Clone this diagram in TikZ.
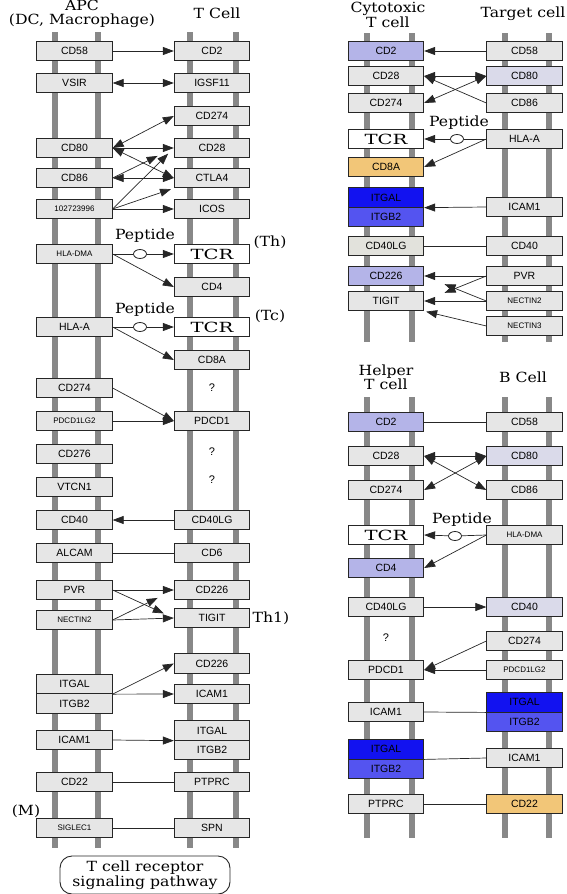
\documentclass[tikz,border=0pt]{standalone}
\usepackage{fontspec}
\setmainfont{Liberation Sans}
\newfontfamily\keggserif{DejaVu Serif}
\usepackage{graphicx}
\usepackage{tikz}
\usetikzlibrary{arrows.meta,shapes.geometric}
\definecolor{kegggray}{RGB}{230,230,230}
\definecolor{keggbar}{RGB}{136,136,136}
\definecolor{keggviolet}{RGB}{180,180,232}
\definecolor{kegglilac}{RGB}{218,218,234}
\definecolor{keggsand}{RGB}{226,226,220}
\definecolor{keggorange}{RGB}{242,198,120}
\definecolor{keggblue}{RGB}{18,18,240}
\definecolor{keggblueb}{RGB}{84,84,240}
\newcommand{\wide}[1]{\scalebox{1.12}[1]{#1}}
\newcommand{\tcrtext}{\scalebox{1.4}[1]{TCR}}
\tikzset{
  gene/.style={draw=black!85,line width=0.8pt,fill=kegggray,minimum width=75.5pt,
    minimum height=19.5pt,inner sep=0pt,font=\fontsize{10.5}{12}\selectfont},
  genesmall/.style={gene,font=\fontsize{8}{9}\selectfont},
  tcrbox/.style={gene,fill=white,font=\keggserif\fontsize{14}{14}\selectfont},
  membrane/.style={keggbar,line width=5.5pt},
  celltitle/.style={font=\keggserif\fontsize{14}{12.5}\selectfont,align=center,inner sep=0pt},
  pep/.style={ellipse,draw=black!85,line width=0.8pt,fill=white,minimum width=13pt,
    minimum height=9pt,inner sep=0pt},
  qmark/.style={font=\fontsize{11}{12}\selectfont},
  bond/.style={black!85,line width=0.7pt},
  arr/.style={bond,-{Triangle[length=11pt,width=8pt]}},
  dbl/.style={bond,{Triangle[length=11pt,width=8pt]}-{Triangle[length=11pt,width=8pt]}}
}

\begin{document}
\begin{tikzpicture}[x=1pt,y=-1pt]
\useasboundingbox (0,0) rectangle (566,894);
% ---------------- left panel: APC / T cell ----------------
\begin{scope}
  \foreach \x in {55,98,190,236}{
    \draw[membrane] (\x,32) -- (\x,848);}
  \node[celltitle,font=\keggserif\fontsize{14}{13.5}\selectfont] (apcTitle) at (82,14)
    {\wide{APC}\\\wide{(DC, Macrophage)}};
  \node[celltitle] (tTitle) at (217,13) {\wide{T Cell}};
  \foreach \n/\y/\l in {aCD58/51/CD58,aVSIR/83/VSIR,aCD80/148/CD80,aCD86/178/CD86,
      aHLAA/327/HLA-A,aPDL1/388/CD274,aCD276/454/CD276,aVTCN1/487/VTCN1,aCD40/520/CD40,
      aALCAM/553/ALCAM,aPVR/590/PVR,aITGAL/684/ITGAL,aITGB2/703.5/ITGB2,aICAM1/740/ICAM1,
      aCD22/782/CD22}{
    \node[gene] (\n) at (74.5,\y) {\l};}
  \foreach \n/\y/\l in {aICOSLG/209/102723996,aDMA/254/HLA-DMA,aPDL2/421/PDCD1LG2,
      aNEC2/620/NECTIN2,aSIGLEC/828/SIGLEC1}{
    \node[genesmall] (\n) at (74.5,\y) {\l};}
  \foreach \n/\y/\l in {tCD2/51/CD2,tIGSF11/83/IGSF11,tCD274/116/CD274,tCD28/148/CD28,
      tCTLA4/178/CTLA4,tICOS/209/ICOS,tCD4/287/CD4,tCD8A/360/CD8A,tPDCD1/421/PDCD1,
      tCD40LG/520/CD40LG,tCD6/553/CD6,tCD226/590/CD226,tTIGIT/618/TIGIT,
      tCD226b/663.5/CD226,tICAM1/694/ICAM1,tITGAL/730.5/ITGAL,tITGB2/750/ITGB2,
      tPTPRC/782/PTPRC,tSPN/828/SPN}{
    \node[gene] (\n) at (212,\y) {\l};}
  \node[tcrbox] (tTCRh) at (212,254) {\tcrtext};
  \node[tcrbox] (tTCRc) at (212,327) {\tcrtext};
  \foreach \y in {388,452,480}{
    \node[qmark] at (212,\y) {?};}
  \node[celltitle] (thLabel) at (270,242) {\wide{(Th)}};
  \node[celltitle] (tcLabel) at (270,316) {\wide{(Tc)}};
  \node[celltitle] (th1Label) at (271,618) {\wide{Th1)}};
  \node[celltitle] (mLabel) at (26,811) {\wide{(M)}};
  \node[celltitle] (pepThLabel) at (145,236) {\wide{Peptide}};
  \node[celltitle] (pepTcLabel) at (145,310) {\wide{Peptide}};
  \node[pep] (pepTh) at (140,254) {};
  \node[pep] (pepTc) at (140,327) {};
  % connectors
  \draw[arr] (aCD58.east) -- (tCD2.west);
  \draw[dbl] (aVSIR.east) -- (tIGSF11.west);
  \draw[dbl] (aCD80.east) -- (tCD274.west);
  \draw[arr] (aCD80.east) -- (tCD28.west);
  \draw[dbl] (aCD80.east) -- (tCTLA4.west);
  \draw[dbl] (aCD86.east) -- (tCTLA4.west);
  \draw[arr,shorten >=18pt] (aCD86.east) -- (tCD28.west);
  \draw[arr,shorten >=8pt] (aICOSLG.east) -- (tCD28.west);
  \draw[arr,shorten >=3pt] (aICOSLG.east) -- (tCTLA4.south west);
  \draw[arr] (aICOSLG.east) -- (tICOS.west);
  \draw[bond] (aDMA.east) -- (pepTh);
  \draw[arr] (pepTh) -- (tTCRh.west);
  \draw[arr] (aDMA.east) -- (tCD4.west);
  \draw[bond] (aHLAA.east) -- (pepTc);
  \draw[arr] (pepTc) -- (tTCRc.west);
  \draw[arr] (aHLAA.east) -- (tCD8A.west);
  \draw[arr] (aPDL1.east) -- (tPDCD1.west);
  \draw[arr] (aPDL2.east) -- (tPDCD1.west);
  \draw[arr] (tCD40LG.west) -- (aCD40.east);
  \draw[bond] (aALCAM.east) -- (tCD6.west);
  \draw[arr] (aPVR.east) -- (tCD226.west);
  \draw[arr,shorten >=11pt] (aPVR.east) -- (tTIGIT.west);
  \draw[arr,shorten >=18pt] (aNEC2.east) -- (tCD226.west);
  \draw[arr] (aNEC2.east) -- (tTIGIT.west);
  \draw[arr] (aITGAL.south east) -- (tCD226b.west);
  \draw[arr] (aITGAL.south east) -- (tICAM1.west);
  \draw[arr] (aICAM1.east) -- (tITGAL.south west);
  \draw[bond] (aCD22.east) -- (tPTPRC.west);
  \draw[bond] (aSIGLEC.east) -- (tSPN.west);
  \node[draw=black!85,line width=0.9pt,rounded corners=12pt,minimum width=170pt,
    minimum height=38pt,inner sep=0pt,align=center,
    font=\keggserif\fontsize{14}{13}\selectfont] (tcrMap) at (145,875)
    {\wide{T cell receptor}\\\wide{signaling pathway}};
\end{scope}
% ---------------- right top: cytotoxic T cell / target cell ----------------
\begin{scope}
  \foreach \x in {367,412,505,549}{
    \draw[membrane] (\x,33) -- (\x,342);}
  \node[celltitle] (ctlTitle) at (388,15) {\wide{Cytotoxic}\\\wide{T cell}};
  \node[celltitle] (tgtTitle) at (523,14) {\wide{Target cell}};
  \foreach \n/\y/\l in {cCD28/76/CD28,cCD274/103/CD274,cTIGIT/301/TIGIT}{
    \node[gene] (\n) at (386,\y) {\l};}
  \node[gene,fill=keggviolet] (cCD2) at (386,51) {CD2};
  \node[tcrbox] (cTCR) at (386,139) {\tcrtext};
  \node[gene,fill=keggorange] (cCD8A) at (386,167) {CD8A};
  \node[gene,fill=keggblue] (cITGAL) at (386,197.5) {ITGAL};
  \node[gene,fill=keggblueb] (cITGB2) at (386,217) {ITGB2};
  \node[gene,fill=keggsand] (cCD40LG) at (386,246) {CD40LG};
  \node[gene,fill=keggviolet] (cCD226) at (386,276) {CD226};
  \foreach \n/\y/\l in {gCD58/51/CD58,gCD86/103/CD86,gHLAA/139/HLA-A,gICAM1/207/ICAM1,
      gCD40/246/CD40,gPVR/276/PVR}{
    \node[gene] (\n) at (524.5,\y) {\l};}
  \node[gene,fill=kegglilac] (gCD80) at (524.5,76) {CD80};
  \node[genesmall] (gNEC2) at (524.5,301) {NECTIN2};
  \node[genesmall] (gNEC3) at (524.5,326) {NECTIN3};
  \node[celltitle] (pepCLabel) at (459,123) {\wide{Peptide}};
  \node[pep] (pepC) at (457,139) {};
  % connectors
  \draw[arr] (gCD58.west) -- (cCD2.east);
  \draw[dbl] (gCD80.west) -- (cCD28.east);
  \draw[arr] (gCD86.west) -- (cCD28.east);
  \draw[dbl] (gCD80.west) -- (cCD274.east);
  \draw[bond] (gHLAA.west) -- (pepC);
  \draw[arr] (pepC) -- (cTCR.east);
  \draw[arr] (gHLAA.west) -- (cCD8A.east);
  \draw[arr] (gICAM1.west) -- (cITGAL.south east);
  \draw[bond] (gCD40.west) -- (cCD40LG.east);
  \draw[arr] (gPVR.west) -- (cCD226.east);
  \draw[arr,shorten >=22pt] (gPVR.west) -- (cTIGIT.east);
  \draw[arr,shorten >=22pt] (gNEC2.west) -- (cCD226.east);
  \draw[arr] (gNEC2.west) -- (cTIGIT.east);
  \draw[arr,shorten >=2pt] (gNEC3.west) -- (cTIGIT.south east);
\end{scope}
% ---------------- right bottom: helper T cell / B cell ----------------
\begin{scope}
  \foreach \x in {367,412,505,549}{
    \draw[membrane] (\x,397) -- (\x,838);}
  \node[celltitle] (thTitle) at (386,377.5) {\wide{Helper}\\\wide{T cell}};
  \node[celltitle] (bTitle) at (523,377) {\wide{B Cell}};
  \foreach \n/\y/\l in {hCD28/456/CD28,hCD274/490/CD274,hCD40LG/607/CD40LG,
      hPDCD1/670/PDCD1,hICAM1/712/ICAM1,hPTPRC/804/PTPRC}{
    \node[gene] (\n) at (386,\y) {\l};}
  \node[gene,fill=keggviolet] (hCD2) at (386,422) {CD2};
  \node[tcrbox] (hTCR) at (386,535) {\tcrtext};
  \node[gene,fill=keggviolet] (hCD4) at (386,568) {CD4};
  \node[gene,fill=keggblue] (hITGAL) at (386,749.25) {ITGAL};
  \node[gene,fill=keggblueb] (hITGB2) at (386,768.75) {ITGB2};
  \node[qmark] at (386,638) {?};
  \foreach \n/\y/\l in {bCD58/422/CD58,bCD86/490/CD86,bCD274/641/CD274,bICAM1/758/ICAM1}{
    \node[gene] (\n) at (524.5,\y) {\l};}
  \node[gene,fill=kegglilac] (bCD80) at (524.5,456) {CD80};
  \node[genesmall] (bDMA) at (524.5,535) {HLA-DMA};
  \node[gene,fill=kegglilac] (bCD40) at (524.5,607) {CD40};
  \node[genesmall] (bPDL2) at (524.5,670) {PDCD1LG2};
  \node[gene,fill=keggblue] (bITGAL) at (524.5,702.25) {ITGAL};
  \node[gene,fill=keggblueb] (bITGB2) at (524.5,721.75) {ITGB2};
  \node[gene,fill=keggorange] (bCD22) at (524.5,804) {CD22};
  \node[celltitle] (pepHLabel) at (462,520) {\wide{Peptide}};
  \node[pep] (pepH) at (455,536) {};
  % connectors
  \draw[bond] (hCD2.east) -- (bCD58.west);
  \draw[dbl] (hCD28.east) -- (bCD80.west);
  \draw[dbl] (hCD28.east) -- (bCD86.west);
  \draw[dbl] (hCD274.east) -- (bCD80.west);
  \draw[bond] (bDMA.west) -- (pepH);
  \draw[arr] (pepH) -- (hTCR.east);
  \draw[arr] (bDMA.west) -- (hCD4.east);
  \draw[arr] (hCD40LG.east) -- (bCD40.west);
  \draw[arr] (bCD274.west) -- (hPDCD1.east);
  \draw[arr] (bPDL2.west) -- (hPDCD1.east);
  \draw[bond] (hICAM1.east) -- (bITGAL.south west);
  \draw[bond] (hITGAL.south east) -- (bICAM1.west);
  \draw[bond] (hPTPRC.east) -- (bCD22.west);
\end{scope}
\end{tikzpicture}
\end{document}
